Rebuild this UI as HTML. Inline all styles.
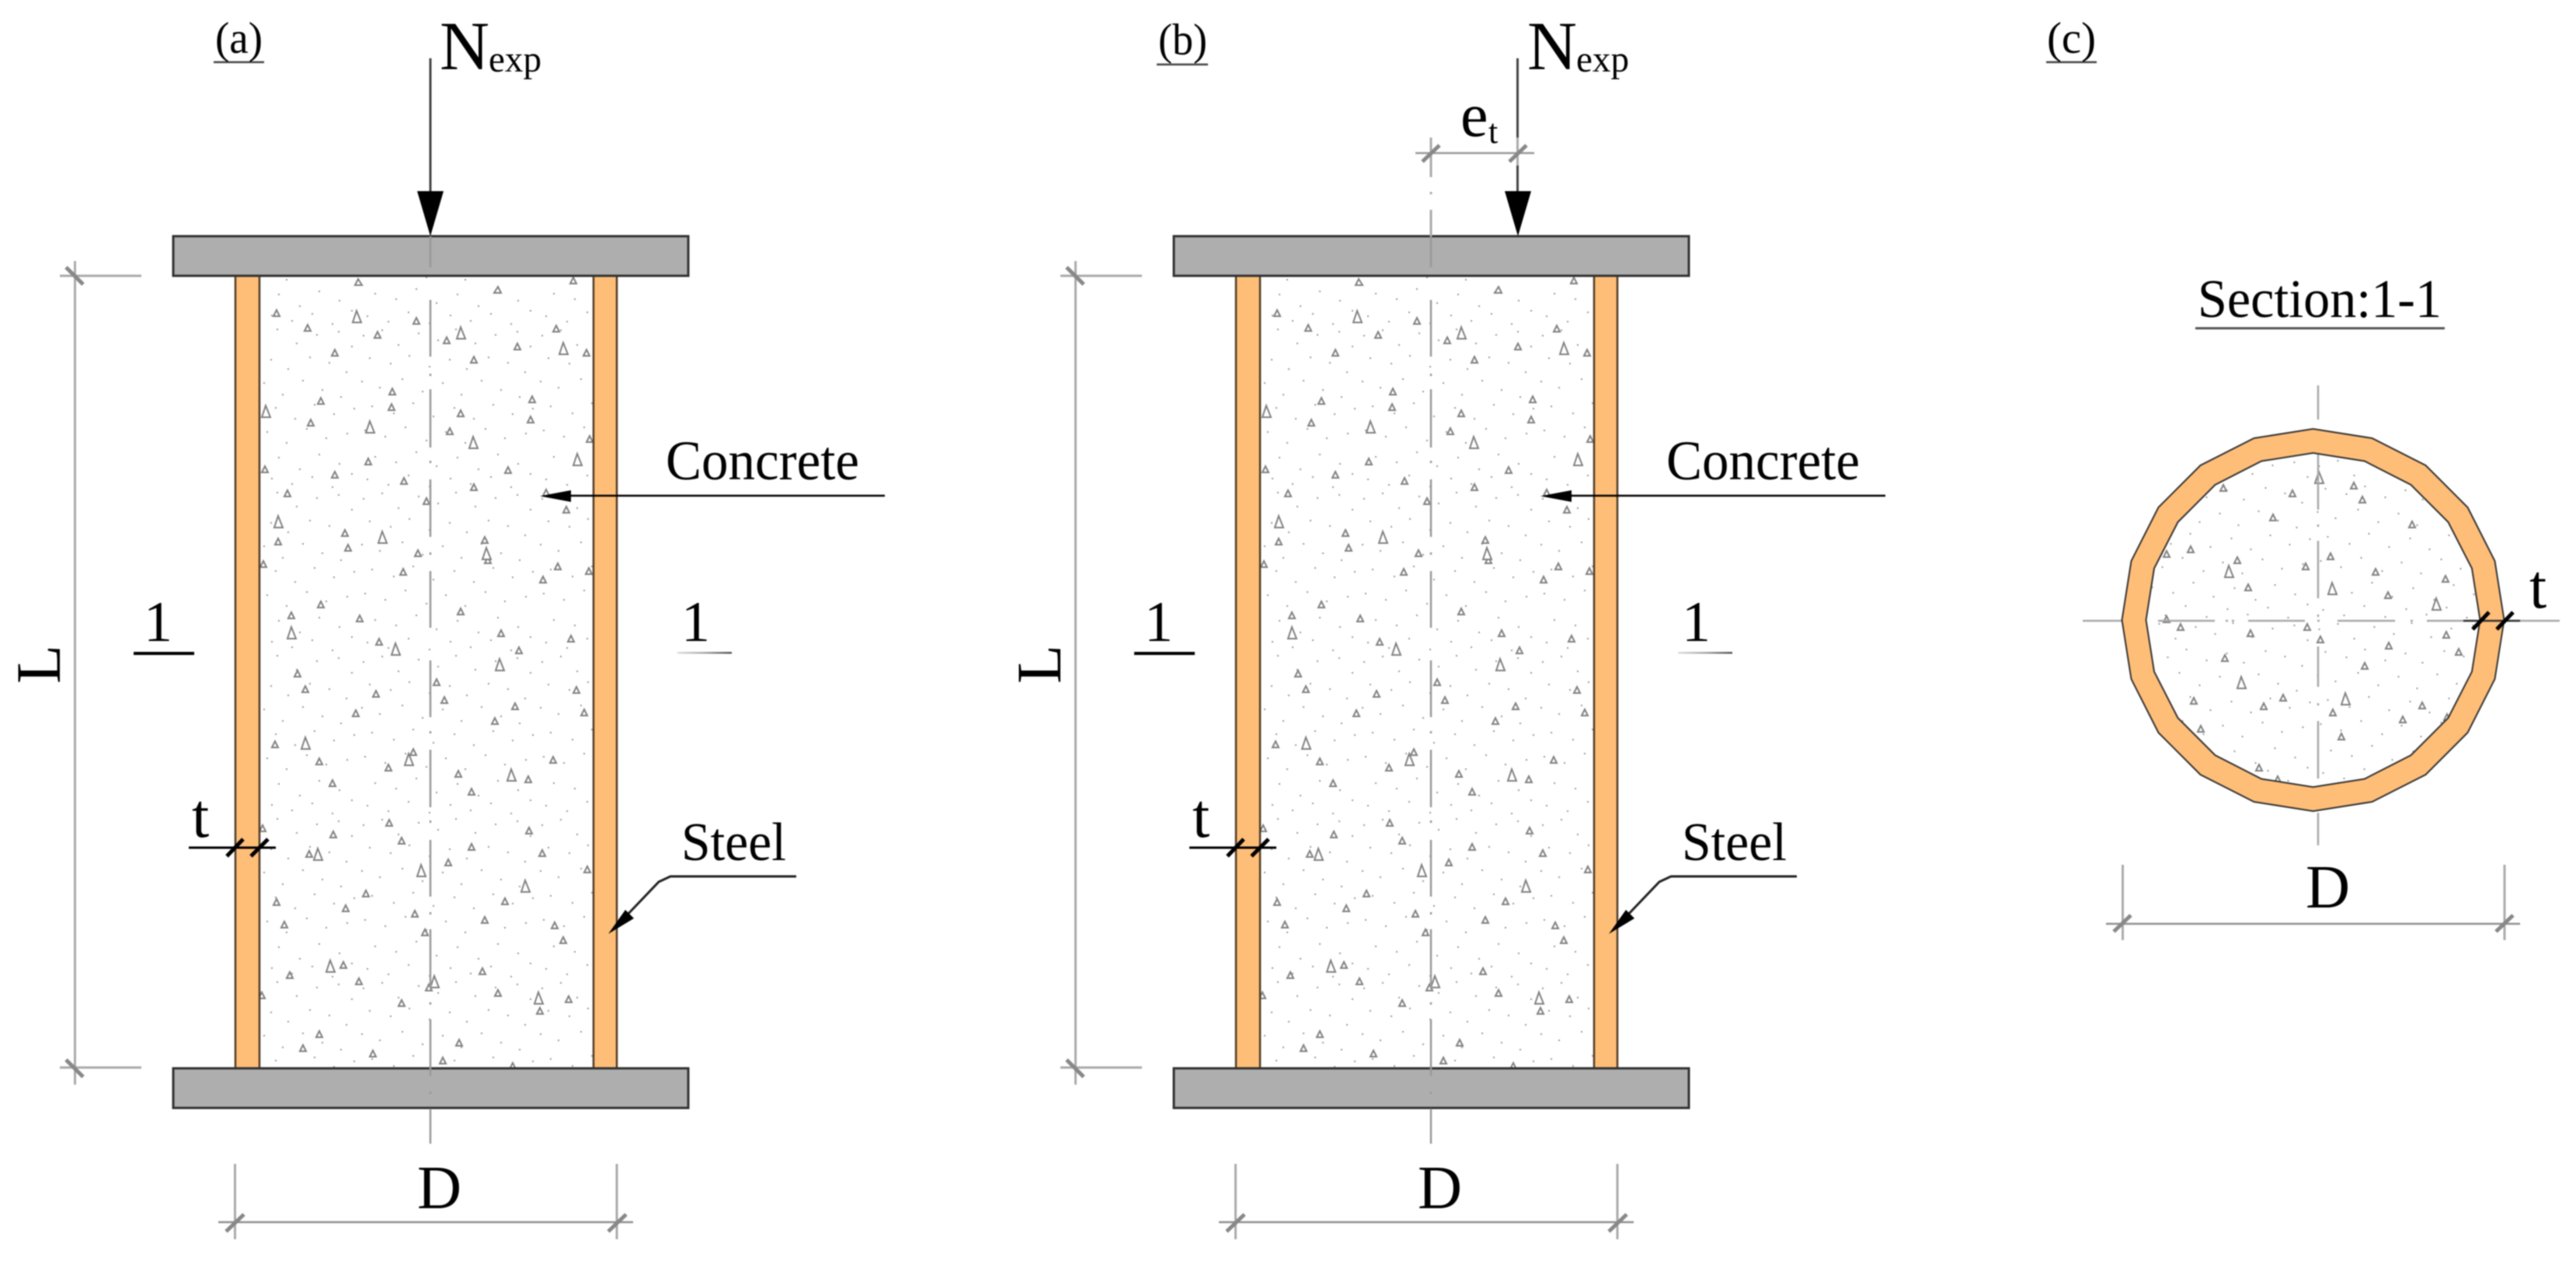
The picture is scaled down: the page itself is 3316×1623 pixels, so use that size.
<!DOCTYPE html>
<html><head><meta charset="utf-8"><style>
html,body{margin:0;padding:0;background:#fff}
svg{display:block;filter:blur(.7px)}
text{font-family:"Liberation Serif",serif;fill:#000}
</style></head><body>
<svg xmlns="http://www.w3.org/2000/svg" width="3316" height="1623" viewBox="0 0 3316 1623">
<defs>
<linearGradient id="fade" x1="0" y1="0" x2="1" y2="0"><stop offset="0" stop-color="#ddd"/><stop offset=".5" stop-color="#aaa"/><stop offset="1" stop-color="#555"/></linearGradient>
<pattern id="d" patternUnits="userSpaceOnUse" width="230" height="210">
<path fill="none" stroke="#999" stroke-width="2" d="M7 12h2M31 5h2M52 24h2M78 9h2M103 18h2M126 4h2M151 22h2M177 11h2M205 7h2M222 26h2M15 41h2M42 48h2M66 38h2M92 52h2M118 43h2M140 55h2M168 40h2M193 47h2M215 59h2M5 71h2M28 79h2M57 68h2M83 84h2M109 73h2M133 88h2M159 70h2M184 82h2M208 91h2M18 103h2M46 112h2M71 99h2M97 116h2M124 105h2M149 119h2M174 101h2M199 113h2M225 106h2M9 134h2M35 142h2M61 130h2M88 147h2M113 136h2M138 150h2M164 132h2M189 144h2M216 138h2M22 168h2M49 175h2M75 162h2M101 180h2M128 169h2M155 184h2M180 165h2M206 177h2M12 197h2M39 204h2M65 192h2M92 206h2M119 196h2M145 203h2M171 194h2M197 207h2M222 190h2"/>
</pattern>
<g id="tri" fill="#fff" stroke="#808080" stroke-width="2">
<path d="M461 359l5 8h-9zM641 369l4 8h-9zM738 357l4 8h-8zM356 399l4 8h-8zM396 418l4 8h-8zM486 427l4 8h-8zM536 409l4 8h-8zM575 434l4 8h-8zM716 419l4 8h-8zM666 442l4 8h-8zM755 450l4 8h-8zM431 450l4 8h-8zM610 459l4 8h-8zM505 500l4 8h-8zM413 512l4 8h-8zM685 510l4 8h-8zM504 520l4 8h-8zM593 528l4 8h-8zM683 536l4 8h-8zM400 540l4 8h-8zM579 551l4 8h-8zM759 561l4 8h-8zM474 590l4 8h-8zM341 600l4 8h-8zM654 601l4 8h-8zM431 607l4 8h-8zM520 615l4 8h-8zM610 623l4 8h-8zM370 631l4 8h-8zM703 630l4 8h-8zM549 641l4 8h-8zM729 652l4 8h-8zM444 682l4 8h-8zM358 693l4 8h-8zM624 691l4 8h-8zM448 701l4 8h-8zM538 708l4 8h-8zM628 717l4 8h-8zM339 722l4 8h-8zM718 725l4 8h-8zM519 732l4 8h-8zM758 731l4 8h-8zM699 742l4 8h-8zM413 774l4 8h-8zM375 788l4 8h-8zM593 783l4 8h-8zM463 792l4 8h-8zM645 811l4 8h-8zM735 818l4 8h-8zM488 822l4 8h-8zM668 833l4 8h-8zM383 863l4 8h-8zM562 874l4 8h-8zM393 883l4 8h-8zM742 884l4 8h-8zM484 889l4 8h-8zM572 897l4 8h-8zM663 905l4 8h-8zM752 913l4 8h-8zM458 914l4 8h-8zM637 924l4 8h-8zM354 954l4 8h-8zM532 964l4 8h-8zM411 976l4 8h-8zM712 974l4 8h-8zM500 984l4 8h-8zM590 992l4 8h-8zM680 999l4 8h-8zM428 1004l4 8h-8zM607 1015l4 8h-8zM501 1055l4 8h-8zM338 1062l4 8h-8zM681 1065l4 8h-8zM429 1070l4 8h-8zM517 1078l4 8h-8zM607 1086l4 8h-8zM398 1095l4 8h-8zM698 1094l4 8h-8zM577 1106l4 8h-8zM756 1115l4 8h-8zM471 1146l4 8h-8zM356 1157l4 8h-8zM650 1156l4 8h-8zM445 1165l4 8h-8zM534 1172l4 8h-8zM624 1180l4 8h-8zM714 1187l4 8h-8zM366 1186l4 8h-8zM547 1196l4 8h-8zM725 1206l4 8h-8zM442 1238l4 8h-8zM621 1246l4 8h-8zM373 1251l4 8h-8zM462 1259l4 8h-8zM552 1267l4 8h-8zM641 1274l4 8h-8zM337 1277l4 8h-8zM732 1282l4 8h-8zM695 1297l4 8h-8zM517 1287l4 8h-8zM411 1327l4 8h-8zM591 1338l4 8h-8zM390 1345l4 8h-8zM480 1352l4 8h-8zM570 1361l4 8h-8zM660 1368l4 8h-8z"/>
<path d="M459 400l6 15h-11zM593 421l6 15h-11zM725 441l6 15h-11zM342 522l6 15h-11zM476 542l6 15h-11zM609 562l6 15h-11zM743 584l6 15h-11zM358 664l6 15h-11zM492 684l6 15h-11zM626 705l6 15h-11zM375 807l6 15h-11zM509 828l6 15h-11zM643 848l6 15h-11zM393 949l6 15h-11zM526 970l6 15h-11zM658 990l6 15h-11zM409 1092l6 15h-11zM542 1113l6 15h-11zM676 1133l6 15h-11zM425 1236l6 15h-11zM559 1256l6 15h-11zM693 1277l6 15h-11z"/>
</g>
<g id="col">
<rect x="334" y="356" width="430" height="1019" fill="url(#d)"/>
<use href="#tri"/>
<rect x="303" y="355" width="31" height="1020" fill="#FFBE78" stroke="#4f3a25" stroke-width="2.5"/>
<rect x="764" y="355" width="30" height="1020" fill="#FFBE78" stroke="#4f3a25" stroke-width="2.5"/>
<rect x="223" y="304" width="663" height="51" fill="#aeaeae" stroke="#333" stroke-width="3"/>
<rect x="223" y="1375" width="663" height="51" fill="#aeaeae" stroke="#333" stroke-width="3"/>
<path fill="none" stroke="#999" stroke-width="2.5" d="M554 304V344M554 386V459M554 481v3M554 501V576M554 593v3M554 617V691M554 711v3M554 735V808M554 850V923M554 941v3M554 965V1039M554 1056v3M554 1081V1154M554 1174v3M554 1196V1272M554 1290v3M554 1312V1385M554 1405v3M554 1427V1472"/>
<path fill="none" stroke="#aaa" stroke-width="3" d="M96.500 336V1396M77 355H182M77 1374H182M302.500 1498V1595M794 1498V1595"/>
<path fill="none" stroke="#8f8f8f" stroke-width="2.500" d="M281 1573H815"/>
<path fill="none" stroke="#888" stroke-width="5" d="M85 344L107 366M85 1364L107 1386M291 1585L314 1563M783 1585L806 1563"/>
<path d="M735 631L695 638.500L735 646Z"/>
<path fill="none" stroke="#000" stroke-width="2.500" d="M735 638H1139"/>
<path fill="none" stroke="#000" stroke-width="3" d="M243 1091H355"/>
<path fill="none" stroke="#000" stroke-width="5" d="M292 1102L313 1080M323 1102L345 1080"/>
<path fill="none" stroke="#222" stroke-width="3" d="M1025 1128H863L848 1135L805 1180"/>
<path d="M783 1202L805 1171L816 1182Z"/>
<path fill="none" stroke="#000" stroke-width="4" d="M172 841H250"/>
<rect x="872" y="839" width="70" height="2.500" fill="url(#fade)"/>
</g>
</defs>

<use href="#col"/>
<use href="#col" x="1288"/>

<!-- a: load -->
<path fill="none" stroke="#444" stroke-width="3" d="M554 75V260"/>
<path d="M537 246H571L554 304Z"/>
<!-- b: load, eccentricity -->
<path fill="none" stroke="#444" stroke-width="3" d="M1953.500 75V177M1953.500 213V260"/>
<path d="M1937 246H1971L1954 304Z"/>
<path fill="none" stroke="#aaa" stroke-width="3" d="M1842 177V228M1842 247v3M1842 270V304M1953.500 177V213"/>
<path fill="none" stroke="#999" stroke-width="2.500" d="M1822 197H1975"/>
<path fill="none" stroke="#888" stroke-width="5" d="M1831 208L1853 187M1943 208L1965 187"/>

<!-- c -->
<g transform="translate(2977.500 798)">
<polygon points="215,0 204.500,66.400 174,126 126,174 66.400,204.500 0,215 -66.400,204.500 -126,174 -174,126 -204.500,66.400 -215,0 -204.500,-66.400 -174,-126 -126,-174 -66.400,-204.500 0,-215 66.400,-204.500 126,-174 174,-126 204.500,-66.400" fill="url(#d)"/>
</g>
<g fill="#fff" stroke="#808080" stroke-width="2">
<path d="M2862 624l4 8h-8zM3030 621l4 8h-8zM2951 631l4 8h-8zM3041 639l4 8h-8zM2926 662l4 8h-8zM3105 671l4 8h-8zM2789 709l4 8h-8zM2820 703l4 8h-8zM3000 712l4 8h-8zM2880 717l4 8h-8zM2968 725l4 8h-8zM3058 732l4 8h-8zM3148 741l4 8h-8zM2894 752l4 8h-8zM3074 762l4 8h-8zM2789 793l4 8h-8zM2807 803l4 8h-8zM2897 811l4 8h-8zM2970 803l4 8h-8zM2987 819l4 8h-8zM3149 813l4 8h-8zM3075 827l4 8h-8zM3165 835l4 8h-8zM2864 843l4 8h-8zM3044 853l4 8h-8zM2939 894l4 8h-8zM2824 898l4 8h-8zM3118 904l4 8h-8zM2914 905l4 8h-8zM3003 913l4 8h-8zM3093 922l4 8h-8zM3150 919l4 8h-8zM2833 934l4 8h-8zM3014 944l4 8h-8zM2908 984l4 8h-8zM2932 999l4 8h-8z"/>
<path d="M2985 607l6 15h-11zM2869 728l6 15h-11zM3002 750l6 15h-11zM3136 770l6 15h-11zM2885 871l6 15h-11zM3019 892l6 15h-11z"/>
</g>
<path fill="none" stroke="#a8a8a8" stroke-width="2.500" d="M2984 496V540M2984 584V656M2984 675v3M2984 696V770M2984 791v3M2984 832V884M2984 905v3M2984 928V1002M2984 1023v3M2984 1046V1088M2681 799H2733M2778 799H2851M2865 799h3M2873 799h3M2894 799H2967M2983 799h3M3009 799H3083M3103 799h3M3124 799H3295"/>
<path transform="translate(2977.500 798)" fill="#FFBE78" fill-rule="evenodd" stroke="#333" stroke-width="2" d="M246 0L234 76L199 145L145 199L76 234L0 246L-76 234L-145 199L-199 145L-234 76L-246 0L-234 -76L-199 -145L-145 -199L-76 -234L0 -246L76 -234L145 -199L199 -145L234 -76ZM215 0L204.500 66.400L174 126L126 174L66.400 204.500L0 215L-66.400 204.500L-126 174L-174 126L-204.500 66.400L-215 0L-204.500 -66.400L-174 -126L-126 -174L-66.400 -204.500L0 -215L66.400 -204.500L126 -174L174 -126L204.500 -66.400Z"/>
<path fill="none" stroke="#333" stroke-width="2.500" d="M3171 799H3244"/>
<path fill="none" stroke="#000" stroke-width="5" d="M3183 810L3204 788M3214 810L3235 788"/>
<path fill="none" stroke="#aaa" stroke-width="3" d="M2732.500 1113V1210M3224 1113V1210"/>
<path fill="none" stroke="#8f8f8f" stroke-width="2.500" d="M2711 1189H3244"/>
<path fill="none" stroke="#888" stroke-width="5" d="M2721 1199L2743 1178M3213 1199L3235 1178"/>

<!-- underlines -->
<path fill="none" stroke="#444" stroke-width="2.500" d="M275 80H340M1489 83H1555M2634 80H2699"/>
<path fill="none" stroke="#555" stroke-width="3" d="M2826 422.500H3147"/>

<!-- labels -->
<text x="277" y="68" font-size="57" textLength="61" lengthAdjust="spacingAndGlyphs">(a)</text>
<text x="1491" y="70" font-size="57" textLength="63" lengthAdjust="spacingAndGlyphs">(b)</text>
<text x="2635" y="68" font-size="57" textLength="63" lengthAdjust="spacingAndGlyphs">(c)</text>

<text x="566" y="89" font-size="89" textLength="64" lengthAdjust="spacingAndGlyphs">N</text>
<text x="629" y="92" font-size="48" textLength="68" lengthAdjust="spacingAndGlyphs">exp</text>
<text x="1966" y="89" font-size="89" textLength="64" lengthAdjust="spacingAndGlyphs">N</text>
<text x="2029" y="92" font-size="48" textLength="68" lengthAdjust="spacingAndGlyphs">exp</text>

<text x="1880" y="175" font-size="80">e</text>
<text x="1916" y="184" font-size="44">t</text>

<text x="857" y="617" font-size="72" textLength="249" lengthAdjust="spacingAndGlyphs">Concrete</text>
<text x="2145" y="617" font-size="72" textLength="249" lengthAdjust="spacingAndGlyphs">Concrete</text>
<text x="877" y="1107" font-size="70" textLength="135" lengthAdjust="spacingAndGlyphs">Steel</text>
<text x="2165" y="1107" font-size="70" textLength="135" lengthAdjust="spacingAndGlyphs">Steel</text>

<text x="185" y="825" font-size="74">1</text>
<text x="877" y="825" font-size="74">1</text>
<text x="1473" y="825" font-size="74">1</text>
<text x="2165" y="825" font-size="74">1</text>

<text transform="translate(77 880) rotate(-90)" font-size="82">L</text>
<text transform="translate(1365 880) rotate(-90)" font-size="82">L</text>

<text x="537" y="1555" font-size="79">D</text>
<text x="1825" y="1555" font-size="79">D</text>
<text x="2968" y="1168" font-size="79">D</text>

<text x="247" y="1077" font-size="80">t</text>
<text x="1535" y="1077" font-size="80">t</text>
<text x="3256" y="782" font-size="80">t</text>

<text x="2829" y="408" font-size="70" textLength="314" lengthAdjust="spacingAndGlyphs">Section:1-1</text>
</svg>
</body></html>
